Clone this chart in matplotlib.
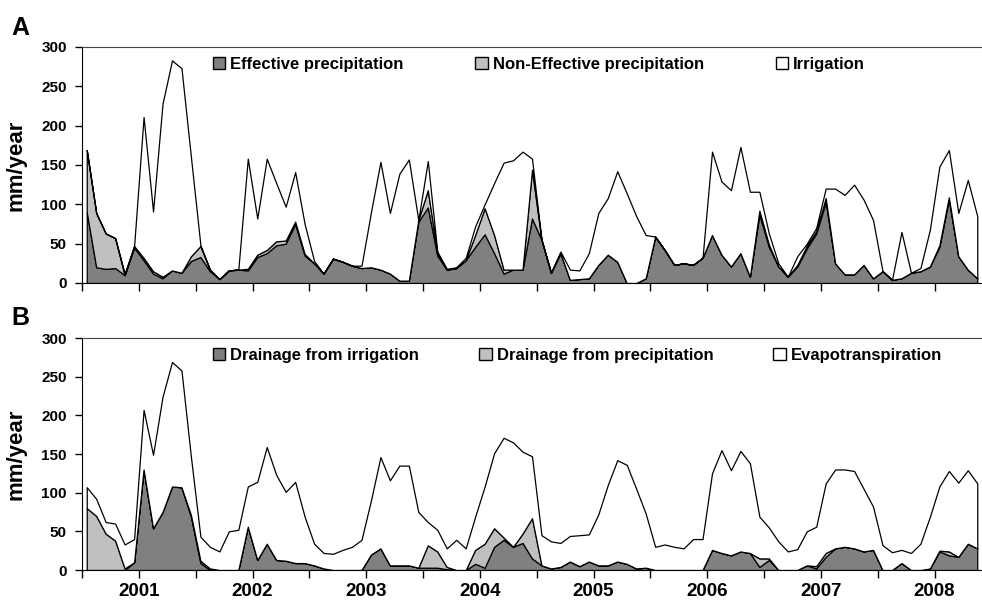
import matplotlib
matplotlib.use('Agg')
import matplotlib.pyplot as plt
import numpy as np
from matplotlib.patches import Patch

plt.rcParams['font.family'] = ['Liberation Sans', 'DejaVu Sans']
plt.rcParams['font.weight'] = 'bold'

# monthly values, Jul 2000 - May 2008 (mm/year)
# panel A
eff_prec = [90, 20, 18, 19, 10, 45, 29, 12, 6, 16, 13, 28, 33, 15, 5, 16, 17, 16, 33, 38,
            48, 50, 75, 35, 25, 12, 31, 27, 22, 19, 20, 17, 12, 3, 3, 78, 96, 35, 17, 19,
            29, 46, 62, 38, 12, 17, 17, 82, 55, 13, 38, 4, 5, 6, 23, 36, 27, 0, 0, 6,
            59, 42, 23, 25, 23, 32, 61, 36, 21, 38, 8, 87, 46, 21, 8, 21, 44, 63, 103, 25,
            11, 11, 23, 6, 15, 4, 6, 13, 15, 21, 46, 106, 34, 17, 6]
noneff_prec = [79, 69, 45, 38, 0, 2, 3, 3, 2, 0, 0, 6, 14, 2, 0, 0, 0, 2, 3, 4,
               5, 4, 3, 2, 0, 0, 0, 0, 0, 0, 0, 0, 0, 0, 0, 2, 22, 3, 0, 0,
               0, 15, 33, 23, 5, 0, 0, 62, 0, 0, 0, 0, 0, 0, 0, 0, 0, 0, 0, 0,
               0, 0, 0, 0, 0, 0, 0, 0, 0, 0, 0, 5, 3, 0, 0, 2, 3, 3, 5, 0,
               0, 0, 0, 0, 0, 0, 0, 0, 0, 0, 2, 3, 0, 0, 0]
irrigation = [0, 0, 0, 0, 2, 0, 179, 76, 220, 267, 260, 126, 1, 0, 0, 0, 0, 140, 46, 116,
              74, 43, 63, 38, 3, 0, 0, 0, 0, 3, 70, 137, 77, 136, 154, 0, 37, 2, 1, 1,
              3, 11, 5, 66, 136, 139, 150, 14, 0, 0, 2, 13, 11, 32, 66, 72, 115, 114, 85, 55,
              0, 0, 0, 0, 0, 0, 106, 93, 97, 135, 108, 24, 14, 4, 0, 11, 3, 4, 12, 95,
              101, 114, 83, 74, 0, 0, 59, 0, 4, 47, 100, 60, 55, 114, 79]

# panel B
drain_irr = [0, 0, 0, 0, 0, 10, 130, 54, 75, 108, 107, 69, 9, 0, 0, 0, 0, 56, 13, 34,
             13, 12, 9, 9, 6, 2, 0, 0, 0, 0, 20, 28, 6, 6, 6, 3, 3, 3, 1, 0,
             0, 8, 3, 30, 39, 30, 35, 15, 6, 2, 4, 11, 5, 11, 6, 6, 11, 8, 2, 3,
             0, 0, 0, 0, 0, 0, 26, 22, 19, 24, 22, 4, 13, 0, 0, 0, 6, 2, 17, 28,
             30, 28, 24, 26, 0, 0, 9, 0, 0, 2, 24, 19, 17, 34, 28]
drain_prec = [80, 70, 47, 38, 2, 0, 0, 0, 0, 0, 0, 2, 3, 2, 0, 0, 0, 0, 0, 0,
              0, 0, 0, 0, 0, 0, 0, 0, 0, 0, 0, 0, 0, 0, 0, 0, 29, 21, 3, 0,
              0, 18, 31, 24, 3, 0, 12, 52, 0, 0, 0, 0, 0, 0, 0, 0, 0, 0, 0, 0,
              0, 0, 0, 0, 0, 0, 0, 0, 0, 0, 0, 11, 2, 0, 0, 0, 0, 3, 5, 0,
              0, 0, 0, 0, 0, 0, 0, 0, 0, 0, 1, 5, 0, 0, 0]
evapotransp = [27, 22, 15, 22, 31, 30, 77, 95, 149, 161, 151, 75, 31, 28, 24, 50, 52, 52, 101, 125,
               110, 89, 105, 60, 28, 20, 21, 26, 30, 39, 70, 118, 110, 129, 129, 72, 30, 28, 24, 39,
               28, 43, 74, 97, 129, 135, 106, 80, 39, 35, 31, 33, 40, 35, 66, 104, 131, 128, 103, 70,
               30, 33, 30, 28, 40, 40, 99, 133, 110, 130, 116, 54, 40, 37, 24, 27, 44, 51, 90, 102,
               100, 100, 81, 56, 32, 23, 17, 22, 34, 67, 83, 104, 96, 95, 84]

years = ['2001', '2002', '2003', '2004', '2005', '2006', '2007', '2008']
colori = ['#808080', '#c0c0c0', 'white']

x = np.arange(len(eff_prec)) + 0.5

fig = plt.figure(figsize=(9.82, 6), dpi=100)
axA = fig.add_axes([82/982, 1 - 283/600, 900/982, 236/600])
axB = fig.add_axes([82/982, 1 - 570/600, 900/982, 232/600])

panels = [
    (axA, [eff_prec, noneff_prec, irrigation],
     ['Effective precipitation', 'Non-Effective precipitation', 'Irrigation'], 4.3),
    (axB, [drain_irr, drain_prec, evapotransp],
     ['Drainage from irrigation', 'Drainage from precipitation', 'Evapotranspiration'], 3.6),
]

for ax, serie, nomi, spazio in panels:
    ax.stackplot(x, *serie, colors=colori, edgecolor='black', linewidth=0.9)
    ax.set_xlim(0, len(x))
    ax.set_ylim(0, 300)
    ax.set_yticks(np.arange(0, 301, 50))
    ax.set_xticks(np.arange(0, len(x), 6))
    ax.tick_params(axis='y', direction='out', length=5, width=1, labelsize=11, pad=6)
    ax.tick_params(axis='x', direction='out', length=6, width=1, labelsize=13.5, pad=3)
    for lab in ax.get_yticklabels():
        lab.set_fontweight('bold')
    ax.spines['right'].set_visible(False)
    ax.spines['top'].set_color('#444444')
    ax.set_ylabel('mm/year', fontsize=16, fontweight='bold')
    ax.yaxis.set_label_coords(-0.062, 0.5)
    handles = [Patch(facecolor=c, edgecolor='black', linewidth=1) for c in colori]
    ax.legend(handles, nomi, loc='center left', bbox_to_anchor=(0.138, 0.925), ncol=3,
              frameon=False, handlelength=0.75, handleheight=0.75,
              handletextpad=0.3, columnspacing=spazio, borderaxespad=0,
              prop={'weight': 'bold', 'size': 12})

axA.set_xticklabels([''] * len(axA.get_xticks()))
etichette = []
for k in range(len(axB.get_xticks())):
    etichette.append(years[k // 2] if k % 2 == 1 else '')
axB.set_xticklabels(etichette, fontweight='bold')

fig.text(0.012, 1 - 16/600, 'A', fontsize=18, fontweight='bold', va='top')
fig.text(0.012, 1 - 306/600, 'B', fontsize=18, fontweight='bold', va='top')

fig.savefig('out.png', dpi=100)
